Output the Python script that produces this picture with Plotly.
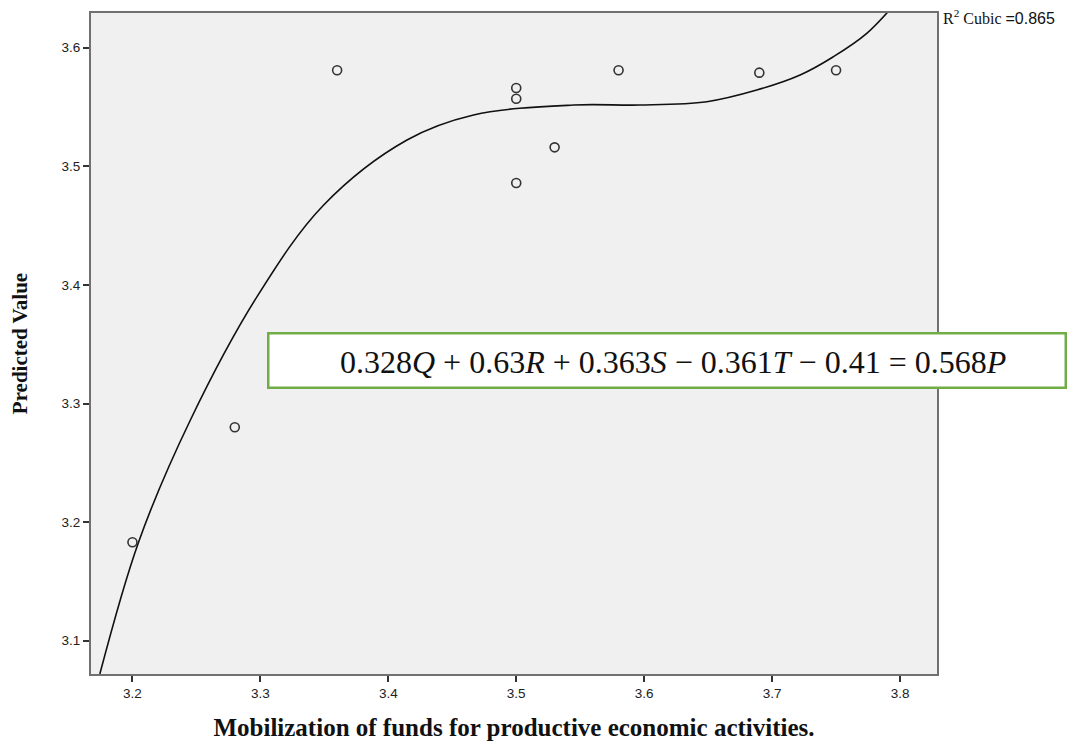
import plotly.graph_objects as go

# Observed data points
x_obs = [3.20, 3.28, 3.36, 3.50, 3.50, 3.50, 3.53, 3.58, 3.69, 3.75]
y_obs = [3.183, 3.280, 3.581, 3.566, 3.557, 3.486, 3.516, 3.581, 3.579, 3.581]

# Cubic fit line
x_fit = [3.1745, 3.2049, 3.2453, 3.2974, 3.3495, 3.4146, 3.4666, 3.5448,
         3.5969, 3.6490, 3.6880, 3.7219, 3.7479, 3.7740, 3.8000]
y_fit = [3.0719, 3.1835, 3.2861, 3.3901, 3.4674, 3.5222, 3.5433, 3.5517,
         3.5517, 3.5545, 3.5643, 3.5770, 3.5924, 3.6121, 3.6420]

x_ticks = [3.2, 3.3, 3.4, 3.5, 3.6, 3.7, 3.8]
y_ticks = [3.1, 3.2, 3.3, 3.4, 3.5, 3.6]

equation = "0.328<i>Q</i> + 0.63<i>R</i> + 0.363<i>S</i> − 0.361<i>T</i> − 0.41 = 0.568<i>P</i>"
r2_label = "R<sup>2</sup> Cubic <span style='font-family:Liberation Sans, Arial'>=0.865</span>"

fig = go.Figure()
fig.add_trace(go.Scatter(x=x_fit, y=y_fit, mode="lines",
                         line=dict(color="#111111", width=1.6, shape="spline", smoothing=1.0),
                         showlegend=False, hoverinfo="skip"))
fig.add_trace(go.Scatter(x=x_obs, y=y_obs, mode="markers",
                         marker=dict(symbol="circle-open", size=9, color="#333333", line=dict(width=1.6)),
                         showlegend=False))

axis_common = dict(showgrid=False, zeroline=False, showline=True, mirror=True, linecolor="#707070", linewidth=2,
                   ticks="outside", ticklen=6, tickwidth=1.5, tickcolor="#333333", automargin=False,
                   tickfont=dict(family="Liberation Sans, Arial", size=13.5, color="#222222"))

fig.update_layout(
    width=1074, height=741,
    margin=dict(l=90.5, r=137, t=13, b=67),
    paper_bgcolor="white", plot_bgcolor="#F0F0F0",
    xaxis=dict(range=[3.1676, 3.8289], tickvals=x_ticks, ticktext=[f"{v:.1f}" for v in x_ticks],
               title=dict(text="<b>Mobilization of funds for productive economic activities.</b>",
                          font=dict(family="Liberation Serif, Times New Roman", size=25, color="#111111"),
                          standoff=19),
               **axis_common),
    yaxis=dict(range=[3.0719, 3.6293], tickvals=y_ticks, ticktext=[f"{v:.1f}" for v in y_ticks],
               title=dict(text="<b>Predicted Value</b>",
                          font=dict(family="Liberation Serif, Times New Roman", size=21, color="#111111"),
                          standoff=28),
               **axis_common),
)

fig.add_annotation(xref="paper", yref="paper", x=0.2085, y=0.5174, xanchor="left", yanchor="top",
                   text=" ", showarrow=False, width=795, height=52, bgcolor="white",
                   bordercolor="#70AD47", borderwidth=2.5, borderpad=0)
fig.add_annotation(xref="paper", yref="paper", x=0.6881, y=0.472, xanchor="center", yanchor="middle",
                   text=equation, showarrow=False,
                   font=dict(family="Liberation Serif, Times New Roman", size=32, color="#111111"))
fig.add_annotation(xref="paper", yref="paper", x=1.0047, y=0.994, xanchor="left", yanchor="middle",
                   text=r2_label, showarrow=False,
                   font=dict(family="Liberation Serif, Times New Roman", size=16, color="#111111"))

fig.write_html("out.html")
